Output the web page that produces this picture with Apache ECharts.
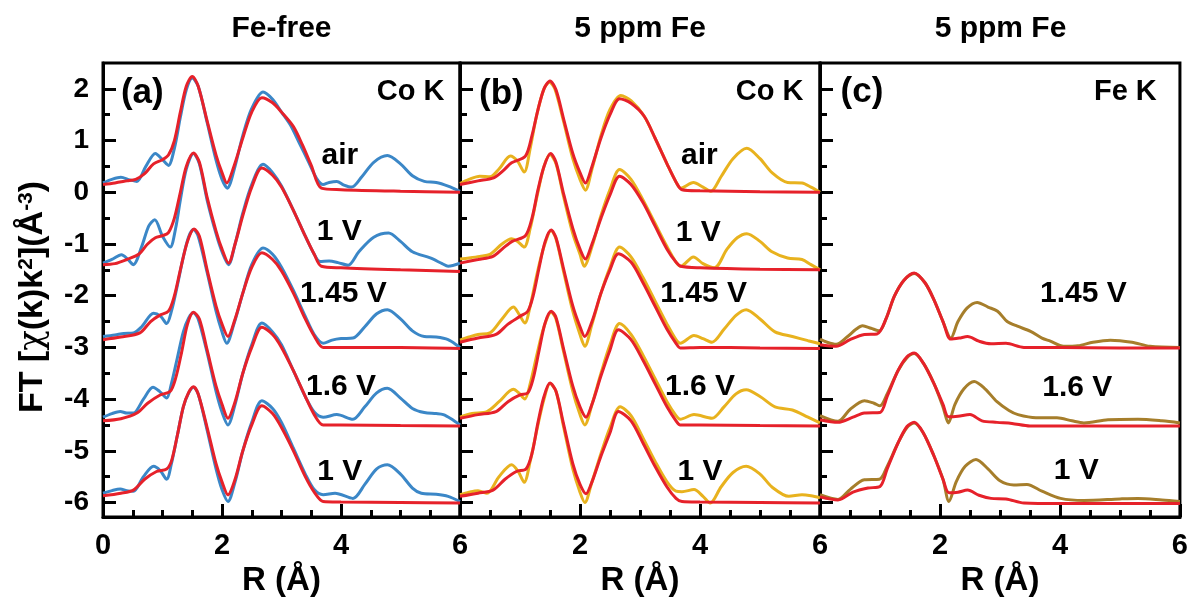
<!DOCTYPE html>
<html>
<head>
<meta charset="utf-8">
<script src="https://cdn.jsdelivr.net/npm/echarts@6/dist/echarts.min.js"></script>
<style>
  html, body { margin: 0; padding: 0; background: #fff; }
  #chart { width: 1191px; height: 603px; }
</style>
</head>
<body>
<div id="chart"></div>
<script>
// Fourier-transformed EXAFS, |FT[chi(k)k^2]| vs R, curves offset vertically.
// Each curve: [R (Å), FT magnitude incl. offset]

// ---------- (a) Fe-free, Co K-edge: experiment (blue) and fit (red) ----------
const aAirExp = [[0,0.18],[0.15,0.25],[0.3,0.29],[0.45,0.24],[0.57,0.21],[0.72,0.5],[0.88,0.75],[1.0,0.63],[1.1,0.52],[1.2,0.85],[1.3,1.45],[1.4,1.98],[1.5,2.21],[1.6,2.05],[1.75,1.35],[1.9,0.62],[2.0,0.25],[2.09,0.08],[2.2,0.42],[2.35,1.1],[2.5,1.62],[2.69,1.94],[2.85,1.8],[3.0,1.55],[3.15,1.3],[3.3,0.95],[3.45,0.6],[3.6,0.25],[3.7,0.15],[3.8,0.19],[3.93,0.21],[4.05,0.14],[4.18,0.1],[4.35,0.3],[4.55,0.58],[4.78,0.71],[5.0,0.55],[5.2,0.32],[5.4,0.21],[5.6,0.19],[5.8,0.12],[6.0,0.02]];
const aAirFit = [[0,0.15],[0.2,0.18],[0.4,0.22],[0.55,0.25],[0.7,0.36],[0.85,0.55],[1.0,0.63],[1.1,0.72],[1.2,1.0],[1.3,1.55],[1.4,2.05],[1.5,2.24],[1.6,2.05],[1.75,1.38],[1.9,0.72],[2.0,0.38],[2.08,0.18],[2.2,0.5],[2.35,1.05],[2.5,1.55],[2.67,1.83],[2.85,1.73],[3.0,1.55],[3.2,1.27],[3.35,0.92],[3.5,0.52],[3.67,0.08],[4.0,0.05],[5.0,0.02],[6.0,0.0]];
const a1VExp = [[0,-1.37],[0.15,-1.3],[0.31,-1.21],[0.42,-1.3],[0.51,-1.4],[0.65,-1.05],[0.77,-0.65],[0.87,-0.53],[1.0,-0.85],[1.13,-1.06],[1.22,-0.7],[1.3,-0.15],[1.4,0.45],[1.52,0.75],[1.62,0.55],[1.75,-0.15],[1.9,-0.8],[2.0,-1.15],[2.11,-1.4],[2.22,-1.0],[2.35,-0.4],[2.5,0.15],[2.69,0.54],[2.85,0.38],[3.0,0.12],[3.2,-0.35],[3.4,-0.85],[3.55,-1.2],[3.65,-1.34],[3.8,-1.33],[3.95,-1.36],[4.12,-1.41],[4.3,-1.15],[4.55,-0.87],[4.8,-0.79],[5.0,-0.95],[5.2,-1.15],[5.5,-1.27],[5.7,-1.38],[5.8,-1.43],[6.0,-1.37]];
const a1VFit = [[0,-1.4],[0.2,-1.38],[0.4,-1.3],[0.6,-1.2],[0.75,-1.0],[0.88,-0.88],[1.0,-0.84],[1.1,-0.78],[1.2,-0.5],[1.3,0.0],[1.4,0.5],[1.52,0.76],[1.62,0.58],[1.75,-0.1],[1.9,-0.75],[2.0,-1.1],[2.11,-1.37],[2.22,-1.0],[2.35,-0.45],[2.5,0.1],[2.67,0.47],[2.85,0.33],[3.0,0.1],[3.2,-0.35],[3.4,-0.85],[3.55,-1.2],[3.67,-1.43],[4.0,-1.46],[5.0,-1.5],[6.0,-1.53]];
const a145Exp = [[0,-2.79],[0.2,-2.76],[0.35,-2.73],[0.51,-2.72],[0.65,-2.6],[0.85,-2.34],[0.97,-2.4],[1.07,-2.54],[1.15,-2.3],[1.25,-1.8],[1.35,-1.25],[1.44,-0.86],[1.52,-0.72],[1.6,-0.85],[1.75,-1.55],[1.9,-2.3],[2.0,-2.7],[2.08,-2.92],[2.2,-2.55],[2.35,-1.95],[2.5,-1.4],[2.69,-1.08],[2.85,-1.2],[3.0,-1.45],[3.2,-1.9],[3.4,-2.4],[3.55,-2.75],[3.7,-2.92],[3.85,-2.86],[4.0,-2.83],[4.2,-2.82],[4.4,-2.6],[4.6,-2.35],[4.78,-2.27],[5.0,-2.45],[5.2,-2.68],[5.4,-2.79],[5.6,-2.8],[5.8,-2.85],[6.0,-3.0]];
const a145Fit = [[0,-2.85],[0.3,-2.8],[0.62,-2.72],[0.8,-2.5],[0.95,-2.38],[1.1,-2.3],[1.2,-2.0],[1.3,-1.5],[1.42,-0.95],[1.53,-0.71],[1.62,-0.85],[1.75,-1.5],[1.9,-2.2],[2.0,-2.55],[2.1,-2.79],[2.22,-2.45],[2.35,-1.95],[2.5,-1.45],[2.67,-1.17],[2.85,-1.3],[3.0,-1.52],[3.2,-1.95],[3.4,-2.45],[3.55,-2.78],[3.7,-3.0],[4.0,-3.0],[5.0,-3.0],[6.0,-3.02]];
const a16Exp = [[0,-4.35],[0.15,-4.28],[0.29,-4.24],[0.4,-4.27],[0.51,-4.27],[0.68,-4.0],[0.84,-3.77],[0.95,-3.85],[1.07,-3.98],[1.15,-3.7],[1.25,-3.2],[1.35,-2.7],[1.44,-2.43],[1.52,-2.33],[1.6,-2.45],[1.75,-3.1],[1.9,-3.85],[2.0,-4.25],[2.1,-4.5],[2.22,-4.1],[2.35,-3.5],[2.5,-2.95],[2.67,-2.53],[2.85,-2.7],[3.0,-2.95],[3.2,-3.45],[3.4,-3.95],[3.55,-4.25],[3.7,-4.35],[3.93,-4.3],[4.2,-4.39],[4.4,-4.15],[4.6,-3.88],[4.78,-3.79],[5.0,-3.98],[5.2,-4.18],[5.4,-4.26],[5.6,-4.28],[5.72,-4.3],[5.85,-4.38],[6.0,-4.5]];
const a16Fit = [[0,-4.42],[0.3,-4.38],[0.57,-4.27],[0.75,-4.08],[0.96,-3.92],[1.13,-3.85],[1.22,-3.6],[1.32,-3.1],[1.42,-2.55],[1.52,-2.32],[1.62,-2.45],[1.75,-3.05],[1.9,-3.75],[2.0,-4.1],[2.1,-4.37],[2.22,-4.05],[2.35,-3.5],[2.5,-3.0],[2.67,-2.61],[2.85,-2.75],[3.0,-3.0],[3.2,-3.45],[3.4,-3.95],[3.55,-4.3],[3.7,-4.5],[4.0,-4.5],[5.0,-4.51],[6.0,-4.52]];
const a1V2Exp = [[0,-5.82],[0.15,-5.77],[0.29,-5.74],[0.4,-5.77],[0.51,-5.78],[0.68,-5.5],[0.85,-5.3],[0.96,-5.38],[1.07,-5.55],[1.15,-5.25],[1.25,-4.7],[1.35,-4.15],[1.44,-3.88],[1.52,-3.77],[1.6,-3.9],[1.75,-4.6],[1.9,-5.35],[2.0,-5.75],[2.1,-5.98],[2.22,-5.6],[2.35,-5.0],[2.5,-4.45],[2.67,-4.03],[2.85,-4.18],[3.0,-4.45],[3.2,-4.95],[3.4,-5.45],[3.55,-5.75],[3.7,-5.85],[3.9,-5.82],[4.2,-5.92],[4.4,-5.65],[4.6,-5.35],[4.78,-5.27],[5.0,-5.45],[5.2,-5.72],[5.35,-5.82],[5.6,-5.84],[5.8,-5.88],[6.0,-5.98]];
const a1V2Fit = [[0,-5.87],[0.3,-5.82],[0.51,-5.76],[0.7,-5.55],[0.9,-5.4],[1.07,-5.35],[1.15,-5.2],[1.25,-4.7],[1.35,-4.15],[1.44,-3.87],[1.52,-3.76],[1.6,-3.9],[1.75,-4.55],[1.9,-5.25],[2.0,-5.6],[2.1,-5.85],[2.22,-5.55],[2.35,-5.0],[2.5,-4.5],[2.67,-4.13],[2.85,-4.28],[3.0,-4.55],[3.2,-5.0],[3.4,-5.5],[3.55,-5.8],[3.7,-5.98],[4.0,-5.99],[5.0,-6.0],[6.0,-6.01]];

// ---------- (b) 5 ppm Fe, Co K-edge: experiment (yellow) and fit (red) ----------
const bAirExp = [[0,0.17],[0.15,0.25],[0.33,0.31],[0.5,0.3],[0.65,0.45],[0.84,0.7],[0.96,0.6],[1.07,0.39],[1.17,0.85],[1.28,1.5],[1.4,2.0],[1.49,2.13],[1.58,2.0],[1.72,1.4],[1.88,0.65],[2.0,0.25],[2.09,0.04],[2.2,0.45],[2.35,1.1],[2.5,1.6],[2.68,1.87],[2.85,1.77],[3.07,1.47],[3.25,1.05],[3.45,0.55],[3.6,0.2],[3.68,0.08],[3.89,0.19],[4.05,0.1],[4.18,0.02],[4.35,0.3],[4.55,0.65],[4.78,0.85],[5.0,0.65],[5.2,0.38],[5.46,0.19],[5.7,0.18],[5.85,0.1],[6.0,0.0]];
const bAirFit = [[0,0.15],[0.3,0.22],[0.56,0.28],[0.72,0.42],[0.86,0.57],[1.09,0.7],[1.2,1.1],[1.3,1.6],[1.4,2.0],[1.5,2.15],[1.6,1.98],[1.72,1.45],[1.88,0.75],[2.0,0.38],[2.09,0.18],[2.2,0.5],[2.35,1.05],[2.5,1.5],[2.66,1.81],[2.85,1.72],[3.07,1.47],[3.25,1.05],[3.45,0.55],[3.6,0.2],[3.7,0.05],[4.0,0.03],[5.0,0.01],[6.0,0.0]];
const b1VExp = [[0,-1.29],[0.15,-1.27],[0.33,-1.24],[0.5,-1.2],[0.7,-1.0],[0.86,-0.9],[0.96,-0.95],[1.07,-1.06],[1.17,-0.7],[1.28,-0.1],[1.4,0.5],[1.5,0.73],[1.6,0.55],[1.72,-0.05],[1.88,-0.8],[2.0,-1.2],[2.07,-1.43],[2.2,-1.05],[2.35,-0.45],[2.5,0.05],[2.66,0.44],[2.85,0.25],[3.05,-0.15],[3.25,-0.6],[3.45,-1.05],[3.6,-1.35],[3.68,-1.43],[3.89,-1.25],[4.05,-1.38],[4.24,-1.46],[4.45,-1.1],[4.62,-0.88],[4.78,-0.8],[5.0,-0.95],[5.2,-1.15],[5.46,-1.27],[5.7,-1.3],[5.85,-1.4],[6.0,-1.5]];
const b1VFit = [[0,-1.37],[0.3,-1.3],[0.55,-1.24],[0.72,-1.08],[0.87,-0.95],[1.09,-0.84],[1.2,-0.5],[1.3,0.05],[1.4,0.5],[1.51,0.75],[1.6,0.58],[1.72,0.0],[1.88,-0.7],[2.0,-1.1],[2.09,-1.29],[2.2,-1.0],[2.35,-0.5],[2.5,-0.05],[2.66,0.31],[2.85,0.15],[3.05,-0.2],[3.25,-0.65],[3.45,-1.1],[3.6,-1.35],[3.68,-1.43],[4.0,-1.46],[5.0,-1.49],[6.0,-1.5]];
const b145Exp = [[0,-2.86],[0.15,-2.8],[0.3,-2.75],[0.5,-2.72],[0.7,-2.45],[0.89,-2.22],[0.98,-2.35],[1.08,-2.53],[1.17,-2.2],[1.28,-1.6],[1.4,-1.05],[1.52,-0.74],[1.6,-0.9],[1.72,-1.5],[1.88,-2.3],[2.0,-2.75],[2.08,-2.98],[2.2,-2.55],[2.35,-1.95],[2.5,-1.45],[2.66,-1.06],[2.85,-1.25],[3.05,-1.65],[3.25,-2.1],[3.45,-2.55],[3.6,-2.85],[3.67,-2.92],[3.9,-2.77],[4.05,-2.83],[4.2,-2.9],[4.4,-2.65],[4.6,-2.38],[4.77,-2.27],[5.0,-2.45],[5.25,-2.7],[5.54,-2.79],[5.8,-2.87],[6.0,-2.93]];
const b145Fit = [[0,-2.9],[0.3,-2.82],[0.6,-2.75],[0.8,-2.55],[1.0,-2.4],[1.13,-2.3],[1.22,-2.0],[1.32,-1.45],[1.42,-0.95],[1.52,-0.73],[1.6,-0.88],[1.72,-1.45],[1.88,-2.2],[2.0,-2.6],[2.08,-2.79],[2.2,-2.5],[2.35,-1.95],[2.5,-1.5],[2.64,-1.19],[2.85,-1.35],[3.05,-1.75],[3.25,-2.2],[3.45,-2.65],[3.6,-2.92],[3.67,-3.01],[4.0,-3.0],[5.0,-3.01],[6.0,-3.02]];
const b16Exp = [[0,-4.35],[0.2,-4.28],[0.45,-4.24],[0.65,-4.05],[0.89,-3.81],[0.98,-3.88],[1.08,-4.0],[1.17,-3.7],[1.28,-3.15],[1.4,-2.6],[1.52,-2.32],[1.6,-2.45],[1.72,-3.05],[1.88,-3.85],[2.0,-4.3],[2.08,-4.5],[2.2,-4.1],[2.35,-3.5],[2.5,-2.95],[2.66,-2.54],[2.85,-2.75],[3.05,-3.15],[3.25,-3.6],[3.45,-4.05],[3.6,-4.32],[3.67,-4.39],[3.9,-4.3],[4.2,-4.37],[4.4,-4.15],[4.6,-3.9],[4.77,-3.82],[5.0,-3.95],[5.25,-4.15],[5.54,-4.21],[5.8,-4.35],[6.0,-4.46]];
const b16Fit = [[0,-4.37],[0.3,-4.3],[0.6,-4.24],[0.8,-4.05],[1.0,-3.92],[1.13,-3.88],[1.22,-3.6],[1.32,-3.05],[1.42,-2.52],[1.52,-2.3],[1.6,-2.42],[1.72,-3.0],[1.88,-3.75],[2.0,-4.15],[2.1,-4.35],[2.2,-4.1],[2.35,-3.55],[2.5,-3.05],[2.64,-2.66],[2.85,-2.85],[3.05,-3.25],[3.25,-3.7],[3.45,-4.15],[3.6,-4.42],[3.67,-4.5],[4.0,-4.5],[5.0,-4.51],[6.0,-4.52]];
const b1V2Exp = [[0,-5.85],[0.15,-5.8],[0.3,-5.77],[0.45,-5.82],[0.65,-5.5],[0.86,-5.27],[0.97,-5.4],[1.07,-5.61],[1.17,-5.2],[1.28,-4.6],[1.4,-4.0],[1.5,-3.7],[1.6,-3.85],[1.72,-4.5],[1.88,-5.35],[2.0,-5.8],[2.08,-6.0],[2.2,-5.6],[2.35,-5.05],[2.5,-4.55],[2.67,-4.15],[2.85,-4.32],[3.05,-4.75],[3.25,-5.2],[3.45,-5.6],[3.6,-5.78],[3.7,-5.79],[3.9,-5.75],[4.05,-5.88],[4.17,-6.01],[4.35,-5.7],[4.55,-5.42],[4.77,-5.3],[5.0,-5.45],[5.2,-5.7],[5.48,-5.88],[5.7,-5.85],[5.85,-5.87],[6.0,-5.91]];
const b1V2Fit = [[0,-5.88],[0.3,-5.82],[0.55,-5.76],[0.75,-5.55],[0.94,-5.4],[1.1,-5.35],[1.2,-5.05],[1.3,-4.45],[1.4,-3.95],[1.5,-3.69],[1.6,-3.85],[1.72,-4.45],[1.88,-5.25],[2.0,-5.65],[2.1,-5.83],[2.2,-5.6],[2.35,-5.1],[2.5,-4.65],[2.64,-4.24],[2.85,-4.42],[3.05,-4.85],[3.25,-5.3],[3.45,-5.7],[3.6,-5.92],[3.7,-5.98],[4.0,-5.99],[5.0,-6.0],[6.0,-6.01]];

// ---------- (c) 5 ppm Fe, Fe K-edge: experiment (brown) and fit (red) ----------
const c145Exp = [[0,-2.84],[0.12,-2.9],[0.27,-2.94],[0.45,-2.8],[0.6,-2.65],[0.71,-2.58],[0.85,-2.63],[0.99,-2.68],[1.1,-2.45],[1.24,-2.01],[1.4,-1.7],[1.57,-1.57],[1.75,-1.75],[1.9,-2.08],[2.05,-2.5],[2.18,-2.82],[2.3,-2.5],[2.45,-2.24],[2.62,-2.13],[2.8,-2.22],[2.96,-2.3],[3.12,-2.5],[3.29,-2.59],[3.51,-2.69],[3.7,-2.82],[3.84,-2.88],[4.06,-2.98],[4.3,-2.97],[4.55,-2.9],[4.84,-2.86],[5.2,-2.9],[5.5,-2.98],[6.0,-3.0]];
const c145Fit = [[0,-2.95],[0.27,-2.98],[0.5,-2.85],[0.74,-2.75],[0.95,-2.74],[1.1,-2.45],[1.24,-2.01],[1.4,-1.7],[1.57,-1.56],[1.75,-1.75],[1.9,-2.08],[2.05,-2.5],[2.18,-2.84],[2.32,-2.82],[2.46,-2.79],[2.65,-2.88],[2.85,-2.93],[3.1,-2.92],[3.4,-3.0],[4.0,-3.0],[5.0,-3.01],[6.0,-3.01]];
const c16Exp = [[0,-4.32],[0.3,-4.43],[0.5,-4.2],[0.74,-4.03],[0.9,-4.08],[1.0,-4.13],[1.12,-3.9],[1.3,-3.45],[1.45,-3.2],[1.57,-3.12],[1.72,-3.3],[1.9,-3.7],[2.05,-4.15],[2.14,-4.46],[2.25,-4.1],[2.4,-3.8],[2.57,-3.66],[2.75,-3.8],[2.95,-4.05],[3.15,-4.22],[3.3,-4.3],[3.6,-4.36],[3.95,-4.36],[4.2,-4.42],[4.4,-4.46],[4.8,-4.4],[5.3,-4.39],[5.7,-4.42],[6.0,-4.46]];
const c16Fit = [[0,-4.4],[0.3,-4.45],[0.55,-4.35],[0.74,-4.27],[1.0,-4.26],[1.12,-3.95],[1.3,-3.45],[1.45,-3.18],[1.57,-3.11],[1.72,-3.3],[1.9,-3.7],[2.05,-4.1],[2.14,-4.34],[2.3,-4.33],[2.5,-4.3],[2.7,-4.42],[2.95,-4.45],[3.2,-4.47],[3.5,-4.52],[4.0,-4.52],[5.0,-4.52],[6.0,-4.52]];
const c1VExp = [[0,-5.85],[0.3,-5.94],[0.5,-5.75],[0.74,-5.56],[0.99,-5.55],[1.12,-5.3],[1.3,-4.85],[1.45,-4.55],[1.57,-4.46],[1.72,-4.65],[1.9,-5.1],[2.05,-5.55],[2.15,-5.98],[2.27,-5.6],[2.42,-5.3],[2.6,-5.17],[2.8,-5.35],[3.0,-5.58],[3.23,-5.66],[3.45,-5.65],[3.7,-5.78],[4.01,-5.92],[4.4,-5.96],[5.0,-5.93],[5.3,-5.92],[5.7,-5.95],[6.0,-5.98]];
const c1VFit = [[0,-5.89],[0.3,-5.95],[0.55,-5.8],[0.8,-5.72],[1.0,-5.69],[1.12,-5.35],[1.3,-4.85],[1.45,-4.53],[1.57,-4.45],[1.72,-4.65],[1.9,-5.1],[2.05,-5.55],[2.15,-5.81],[2.3,-5.8],[2.46,-5.76],[2.65,-5.86],[2.85,-5.92],[3.1,-5.93],[3.4,-6.01],[4.0,-6.02],[5.0,-6.02],[6.0,-6.02]];

// ---------- axis ticks and text ----------
const xTicks = [0, 2, 4, 6];
const yMajorTicks = [-6, -5, -4, -3, -2, -1, 0, 1, 2];
const yMinorTicks = [-5.5, -4.5, -3.5, -2.5, -1.5, -0.5, 0.5, 1.5];
const panelTitles = ['Fe-free', '5 ppm Fe', '5 ppm Fe'];
const panelLetters = ['(a)', '(b)', '(c)'];
const edgeNames = ['Co K', 'Co K', 'Fe K'];
const stateNames = {
  a: ['air', '1 V', '1.45 V', '1.6 V', '1 V'],
  b: ['air', '1 V', '1.45 V', '1.6 V', '1 V'],
  c: ['1.45 V', '1.6 V', '1 V']
};

// where each text sits, in (R, FT) coordinates of its panel
const stateAnchors = {
  a: [[3.98, 0.71], [3.97, -0.77], [4.04, -1.96], [4.0, -3.76], [3.98, -5.41]],
  b: [[3.99, 0.71], [3.97, -0.78], [4.06, -1.96], [4.0, -3.76], [4.0, -5.41]],
  c: [[4.39, -1.96], [4.29, -3.78], [4.27, -5.39]]
};
const letterAnchors = [[0.66, 1.91], [0.69, 1.89], [0.7, 1.93]];
const edgeAnchors = [[5.17, 1.93], [5.16, 1.93], [5.09, 1.93]];

const FONT = '"Liberation Sans", Arial, Helvetica, sans-serif';
const BLUE = '#3b87c7', RED = '#e6212a', YELLOW = '#e8b21e', BROWN = '#a67e2b';

const panels = [
  { key: 'a', exp: [aAirExp, a1VExp, a145Exp, a16Exp, a1V2Exp], fit: [aAirFit, a1VFit, a145Fit, a16Fit, a1V2Fit], color: BLUE },
  { key: 'b', exp: [bAirExp, b1VExp, b145Exp, b16Exp, b1V2Exp], fit: [bAirFit, b1VFit, b145Fit, b16Fit, b1V2Fit], color: YELLOW },
  { key: 'c', exp: [c145Exp, c16Exp, c1VExp], fit: [c145Fit, c16Fit, c1VFit], color: BROWN }
];

const gridBoxes = [
  { left: 103, top: 63, width: 357, height: 454 },
  { left: 460, top: 63, width: 360, height: 454 },
  { left: 820, top: 63, width: 361, height: 454 }
];

const black = { color: '#000', width: 3 };
const boldText = (size) => ({ color: '#000', fontFamily: FONT, fontWeight: 'bold', fontSize: size });

const grids = [], xAxes = [], yAxes = [], series = [];

panels.forEach((p, i) => {
  grids.push(Object.assign({ show: true, borderColor: '#000', borderWidth: 3, backgroundColor: 'transparent' }, gridBoxes[i]));

  xAxes.push({
    type: 'value', gridIndex: i, min: 0, max: 6, interval: 2,
    axisLine: { show: true, onZero: false, lineStyle: black },
    axisTick: { show: true, inside: true, length: 13, lineStyle: black },
    minorTick: { show: true, splitNumber: 4, length: 7, lineStyle: black },
    splitLine: { show: false }, minorSplitLine: { show: false },
    axisLabel: Object.assign(boldText(29), {
      margin: 14,
      customValues: i === 0 ? xTicks : xTicks.slice(1),
      formatter: v => String(v)
    }),
    name: 'R (Å)', nameLocation: 'middle', nameGap: 47,
    nameTextStyle: boldText(33)
  });

  yAxes.push({
    type: 'value', gridIndex: i, min: -6.28, max: 2.5, position: 'left',
    axisLine: { show: true, onZero: false, lineStyle: black },
    axisTick: { show: true, inside: true, length: 13, customValues: yMajorTicks, lineStyle: black },
    axisLabel: Object.assign(boldText(28), { show: i === 0, margin: 14, customValues: yMajorTicks }),
    splitLine: { show: false }
  });
  yAxes.push({
    type: 'value', gridIndex: i, min: -6.28, max: 2.5, position: 'left',
    axisLine: { show: false },
    axisTick: { show: true, inside: true, length: 7, customValues: yMinorTicks, lineStyle: black },
    axisLabel: { show: false },
    splitLine: { show: false }
  });

  const lineSeries = (data, color, z) => ({
    type: 'line', xAxisIndex: i, yAxisIndex: 2 * i, data,
    showSymbol: false, symbol: 'none', smooth: 0.3,
    lineStyle: { color, width: 3 }, z, silent: true
  });
  p.exp.forEach(d => series.push(lineSeries(d, p.color, 2)));
  p.fit.forEach(d => series.push(lineSeries(d, RED, 3)));
});

const titleCenters = gridBoxes.map(g => g.left + g.width / 2);
const fixedGraphics = panelTitles.map((t, i) => ({
  type: 'text', x: titleCenters[i], y: 29, silent: true,
  style: { text: t, align: 'center', verticalAlign: 'middle', fill: '#000', font: 'bold 30px ' + FONT }
}));

// vertical quantity label of the shared FT axis
fixedGraphics.push({
  type: 'text', x: 33, y: 297, rotation: Math.PI / 2, silent: true,
  style: {
    text: '{b|FT [}{chi|χ}{b|(k)k}{sup|2}{b|](Å}{sup|-3}{b|)}',
    align: 'center', verticalAlign: 'middle',
    rich: {
      b: { fontFamily: FONT, fontWeight: 'bold', fontSize: 34, fill: '#000' },
      chi: { fontFamily: '"DejaVu Serif", serif', fontWeight: 'normal', fontSize: 34, fill: '#000' },
      sup: { fontFamily: FONT, fontWeight: 'bold', fontSize: 21, fill: '#000', verticalAlign: 'top' }
    }
  }
});

const chart = echarts.init(document.getElementById('chart'), null, { renderer: 'canvas' });
chart.setOption({
  animation: false,
  backgroundColor: '#fff',
  grid: grids, xAxis: xAxes, yAxis: yAxes, series,
  graphic: fixedGraphics
});

// in-panel annotations, positioned through each panel's scales
const annotations = [];
const addText = (i, xy, text, size) => {
  const [px, py] = chart.convertToPixel({ xAxisIndex: i, yAxisIndex: 2 * i }, xy);
  annotations.push({
    type: 'text', x: px, y: py, silent: true, z: 10,
    style: { text, align: 'center', verticalAlign: 'middle', fill: '#000', font: 'bold ' + size + 'px ' + FONT }
  });
};
panels.forEach((p, i) => {
  stateAnchors[p.key].forEach((xy, k) => addText(i, xy, stateNames[p.key][k], 30));
  addText(i, letterAnchors[i], panelLetters[i], 35);
  addText(i, edgeAnchors[i], edgeNames[i], 29);
});
chart.setOption({ graphic: fixedGraphics.concat(annotations) });
</script>
</body>
</html>
